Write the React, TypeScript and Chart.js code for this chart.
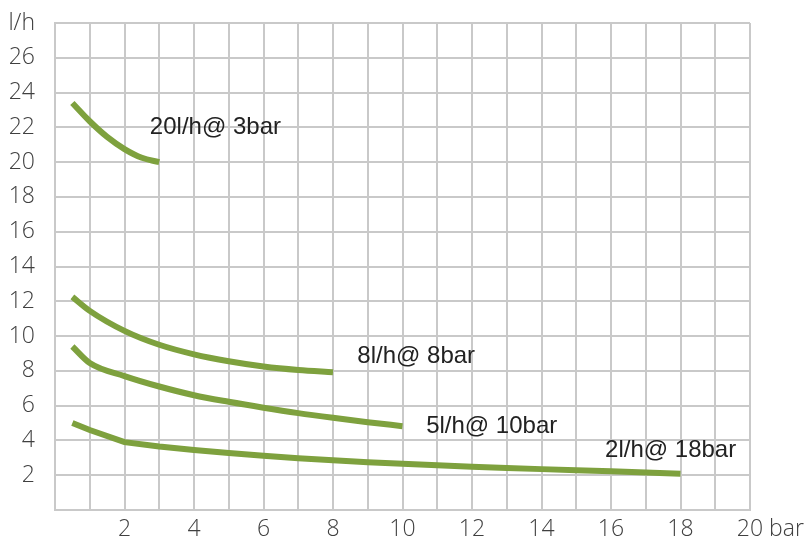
import React, { useEffect, useRef } from "react";
import { Chart, registerables } from "chart.js";

Chart.register(...registerables);

const curve1X = [0.5, 1, 1.5, 2, 2.5, 3];
const curve1Y = [23.4, 22.35, 21.45, 20.75, 20.25, 20.0];

const curve2X = [0.5, 1, 2, 3, 4, 5, 6, 7, 8];
const curve2Y = [12.25, 11.45, 10.3, 9.5, 8.95, 8.55, 8.25, 8.05, 7.92];

const curve3X = [0.5, 1, 2, 3, 4, 5, 6, 7, 8, 9, 10];
const curve3Y = [9.4, 8.45, 7.7, 7.1, 6.6, 6.22, 5.88, 5.57, 5.3, 5.05, 4.82];

const curve4X = [0.5, 1, 2, 3, 4, 5, 6, 7, 8, 9, 10, 11, 12, 13, 14, 15, 16, 17, 18];
const curve4Y = [5.0, 4.6, 3.9, 3.65, 3.45, 3.28, 3.12, 2.98, 2.86, 2.75, 2.66, 2.57, 2.49, 2.42, 2.35, 2.29, 2.23, 2.15, 2.08];

const curveLabels = ["20l/h@ 3bar", "8l/h@ 8bar", "5l/h@ 10bar", "2l/h@ 18bar"];
const curveLabelX = [2.73, 8.7, 10.68, 15.83];
const curveLabelY = [21.62, 8.45, 4.45, 3.03];

const xUnit = "bar";
const yUnit = "l/h";

const GREEN = "#7ea13e";
const GRID = "#c9c9c9";
const TICK_FONT = { family: "'Open Sans', sans-serif", size: 23, weight: "300" as any };

const toPts = (xs: number[], ys: number[]) => xs.map((x, i) => ({ x, y: ys[i] }));

export default function App() {
  const ref = useRef<HTMLCanvasElement | null>(null);
  useEffect(() => {
    if (!ref.current) return;
    const labelPlugin = {
      id: "curveLabels",
      afterDatasetsDraw(chart: any) {
        const ctx = chart.ctx;
        const xs = chart.scales.x;
        const ys = chart.scales.y;
        ctx.save();
        ctx.font = "24px 'Liberation Sans', Arial, sans-serif";
        ctx.fillStyle = "#222222";
        ctx.textAlign = "left";
        ctx.textBaseline = "alphabetic";
        curveLabels.forEach((t, i) => {
          ctx.fillText(t, xs.getPixelForValue(curveLabelX[i]), ys.getPixelForValue(curveLabelY[i]));
        });
        ctx.font = `300 23px 'Open Sans', sans-serif`;
        ctx.fillStyle = "#404040";
        ctx.textBaseline = "middle";
        const w20 = ctx.measureText("20").width;
        const sp = ctx.measureText(" ").width;
        ctx.fillText(xUnit, xs.getPixelForValue(20) + w20 / 2 + sp, chart.chartArea.bottom + 19);
        ctx.restore();
      },
    };
    const chart = new Chart(ref.current, {
      type: "line",
      data: {
        datasets: [
          { data: toPts(curve1X, curve1Y), tension: 0.4 },
          { data: toPts(curve2X, curve2Y), cubicInterpolationMode: "monotone" },
          { data: toPts(curve3X, curve3Y), cubicInterpolationMode: "monotone" },
          { data: toPts(curve4X, curve4Y), tension: 0 },
        ].map((d) => ({
          ...d,
          borderColor: GREEN,
          borderWidth: 6,
          pointRadius: 0,
          fill: false,
          borderCapStyle: "butt",
        })) as any,
      },
      options: {
        animation: false,
        responsive: false,
        layout: { padding: { top: 23, right: 59, left: 0, bottom: 0 } },
        plugins: { legend: { display: false }, tooltip: { enabled: false } },
        scales: {
          x: {
            type: "linear",
            min: 0,
            max: 20,
            afterFit: (s: any) => {
              s.height = 29;
              s.paddingLeft = 0;
              s.paddingRight = 0;
            },
            grid: { color: GRID, lineWidth: 2, drawTicks: false },
            border: { color: GRID, width: 2 },
            ticks: {
              stepSize: 1,
              autoSkip: false,
              maxRotation: 0,
              padding: 6,
              color: "#404040",
              font: TICK_FONT,
              callback: (v: any) => (v > 0 && v % 2 === 0 ? String(v) : ""),
            },
          },
          y: {
            type: "linear",
            min: 0,
            max: 28,
            afterFit: (s: any) => {
              s.width = 55;
              s.paddingTop = 0;
              s.paddingBottom = 0;
            },
            grid: { color: GRID, lineWidth: 2, drawTicks: false },
            border: { color: GRID, width: 2 },
            ticks: {
              stepSize: 2,
              autoSkip: false,
              padding: 20,
              color: "#404040",
              font: TICK_FONT,
              callback: (v: any) => (v === 28 ? yUnit : v === 0 ? "" : String(v)),
            },
          },
        },
      },
      plugins: [labelPlugin],
    });
    return () => chart.destroy();
  }, []);
  return (
    <div style={{ position: "absolute", left: 0, top: 0, width: 809, height: 539, background: "#fff" }}>
      <canvas ref={ref} width={809} height={539} style={{ display: "block" }} />
    </div>
  );
}
